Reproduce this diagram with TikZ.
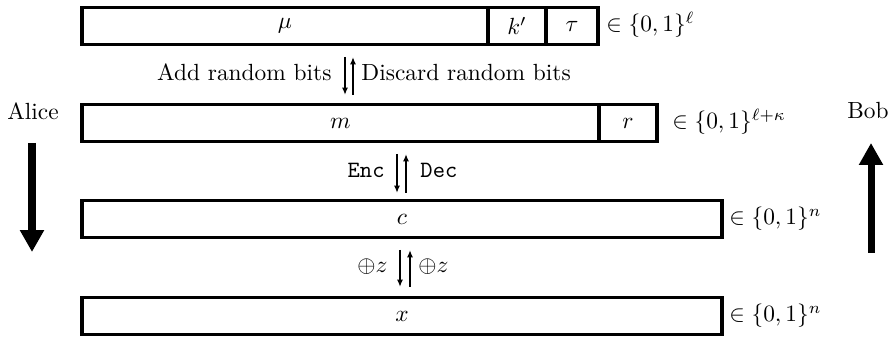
\documentclass[tikz,border=0pt]{standalone}
\usetikzlibrary{arrows.meta}
\begin{document}
\begin{tikzpicture}[x=0.4275pt,y=-0.4275pt,
  cell/.style={draw,line width=1.35pt,rectangle,inner sep=0pt,minimum height=15.82pt},
  lbl/.style={inner sep=0pt},
  smallarr/.style={line width=0.9pt,-{Latex[length=3.2pt,width=2.6pt]}},
  bigarr/.style={line width=3pt,-{Triangle[length=9.4pt,width=9.8pt]}}]
\useasboundingbox (0,0) rectangle (894,339);
% row 1
\node[cell,minimum width=173.57pt] (mu) at (285,26) {$\mu$};
\node[cell,minimum width=24.80pt] (kp) at (517,26) {$k'$};
\node[cell,minimum width=22.23pt] (tau) at (572,26) {$\tau$};
\node[lbl,anchor=base west] (s1) at (606,32) {$\in\{0,1\}^{\ell}$};
% row 2
\node[cell,minimum width=221.02pt] (m) at (340.5,123) {$m$};
\node[cell,minimum width=24.80pt] (r) at (628,123) {$r$};
\node[lbl,anchor=base west] (s2) at (672,129) {$\in\{0,1\}^{\ell+\kappa}$};
% row 3
\node[cell,minimum width=273.6pt] (c) at (402,219) {$c$};
\node[lbl,anchor=base west] (s3) at (729,225) {$\in\{0,1\}^{n}$};
% row 4
\node[cell,minimum width=273.6pt] (x) at (402,316) {$x$};
\node[lbl,anchor=base west] (s4) at (729,322) {$\in\{0,1\}^{n}$};
% transitions 1
\coordinate (a1s) at (345,57); \coordinate (a1e) at (345,95);
\coordinate (b1s) at (353,95); \coordinate (b1e) at (353,57);
\draw[smallarr] (a1s) -- (a1e);
\draw[smallarr] (b1s) -- (b1e);
\node[lbl,anchor=base east] (add) at (332,81) {Add random bits};
\node[lbl,anchor=base west] (disc) at (361,81) {Discard random bits};
% transitions 2
\coordinate (a2s) at (397,154); \coordinate (a2e) at (397,193);
\coordinate (b2s) at (406,193); \coordinate (b2e) at (406,154);
\draw[smallarr] (a2s) -- (a2e);
\draw[smallarr] (b2s) -- (b2e);
\node[lbl,anchor=base east] (enc) at (385,178) {\texttt{Enc}};
\node[lbl,anchor=base west] (dec) at (420,178) {\texttt{Dec}};
% transitions 3
\coordinate (a3s) at (400,250); \coordinate (a3e) at (400,287);
\coordinate (b3s) at (410,287); \coordinate (b3e) at (410,250);
\draw[smallarr] (a3s) -- (a3e);
\draw[smallarr] (b3s) -- (b3e);
\node[lbl,anchor=base east] (xl) at (388,273) {$\oplus z$};
\node[lbl,anchor=base west] (xr) at (418,273) {$\oplus z$};
% Alice and Bob
\node[lbl,anchor=base] (alice) at (33,120) {Alice};
\node[lbl,anchor=base] (bob) at (868,119) {Bob};
\coordinate (al1) at (32,143); \coordinate (al2) at (32,252);
\coordinate (bo1) at (871,253); \coordinate (bo2) at (871,143);
\draw[bigarr] (al1) -- (al2);
\draw[bigarr] (bo1) -- (bo2);
\end{tikzpicture}
\end{document}
